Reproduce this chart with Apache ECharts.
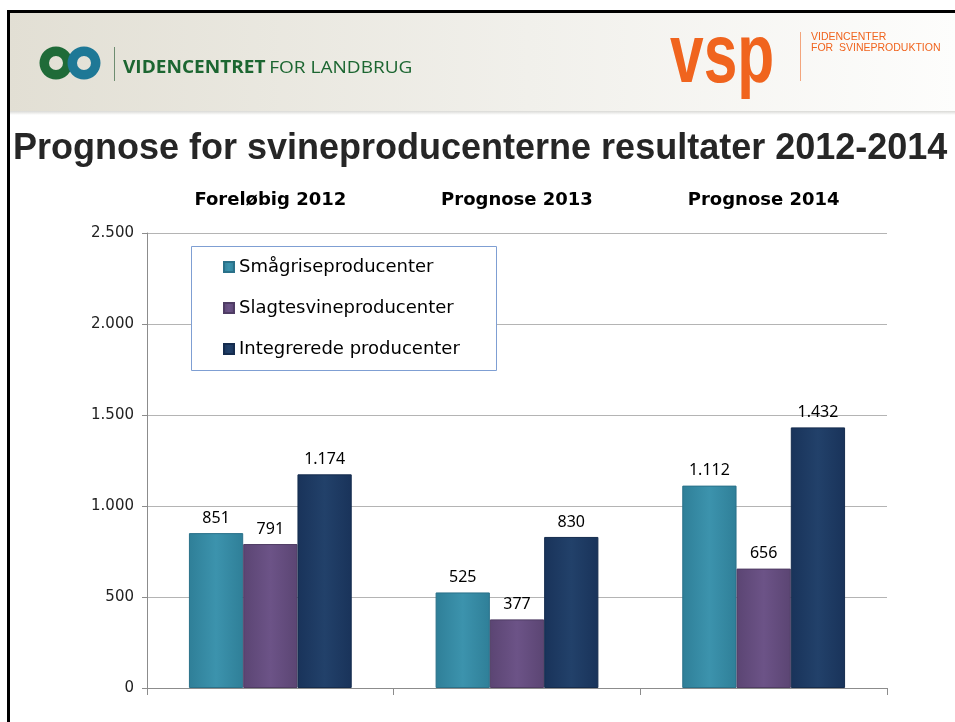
<!DOCTYPE html>
<html>
<head>
<meta charset="utf-8">
<title>Prognose for svineproducenterne resultater 2012-2014</title>
<script src="https://cdn.jsdelivr.net/npm/echarts@6/dist/echarts.min.js"></script>
<style>
  html, body { margin: 0; padding: 0; background: #fff; }
  #chart { width: 955px; height: 722px; }
</style>
</head>
<body>
<div id="chart"></div>
<script>
// data
const categories = ['Foreløbig 2012', 'Prognose 2013', 'Prognose 2014']
const smaagrise = [851, 525, 1112]
const slagtesvin = [791, 377, 656]
const integrerede = [1174, 830, 1432]
const seriesNames = ['Smågriseproducenter', 'Slagtesvineproducenter', 'Integrerede producenter']
const yTicks = [0, 500, 1000, 1500, 2000, 2500]

// danish thousands separator
const fmt = v => String(v).replace(/\B(?=(\d{3})+(?!\d))/g, '.')

// sideways shading so the bars look a bit raised
const barFill = (edge, mid) => ({
   type: 'linear', x: 0, y: 0, x2: 1, y2: 0,
   colorStops: [
      { offset: 0, color: edge },
      { offset: 0.5, color: mid },
      { offset: 1, color: edge }
   ]
})

const makeSeries = (name, data, edge, mid, border) => ({
   name: name,
   type: 'bar',
   data: data,
   barGap: '0%',
   barCategoryGap: '34%',
   itemStyle: { color: barFill(edge, mid), borderColor: border, borderWidth: 1 },
   label: {
      show: true,
      position: 'top',
      distance: 7,
      formatter: p => fmt(p.value),
      fontFamily: 'Noto Sans',
      fontSize: 16,
      color: '#000'
   }
})

const chart = echarts.init(document.getElementById('chart'))

const option = {
   backgroundColor: '#fff',
   animation: false,
   grid: { left: 147, right: 68, top: 233, bottom: 34 },
   legend: {
      orient: 'vertical',
      left: 218,
      top: 252,
      z: 20,
      itemGap: 21,
      itemWidth: 10,
      itemHeight: 10,
      icon: 'rect',
      textStyle: { fontFamily: 'DejaVu Sans', fontSize: 18, color: '#000', lineHeight: 20 },
      data: seriesNames
   },
   xAxis: [
      {
         type: 'category',
         data: categories,
         position: 'bottom',
         axisLine: { lineStyle: { color: '#8c8c8c' } },
         axisTick: { show: true, length: 7, lineStyle: { color: '#8c8c8c' } },
         axisLabel: { show: false }
      },
      {
         type: 'category',
         data: categories,
         position: 'top',
         axisLine: { show: false },
         axisTick: { show: false },
         axisLabel: {
            margin: 24,
            fontFamily: 'DejaVu Sans',
            fontWeight: 'bold',
            fontSize: 18,
            color: '#000'
         }
      }
   ],
   yAxis: {
      type: 'value',
      min: yTicks[0],
      max: yTicks[yTicks.length - 1],
      interval: 500,
      axisLine: { show: true, lineStyle: { color: '#8c8c8c' } },
      axisTick: { show: true, length: 5, lineStyle: { color: '#8c8c8c' } },
      splitLine: { lineStyle: { color: '#b4b4b4' } },
      axisLabel: {
         margin: 13,
         formatter: v => fmt(v),
         fontFamily: 'DejaVu Sans',
         fontSize: 15,
         color: '#222'
      }
   },
   series: [
      makeSeries(seriesNames[0], smaagrise, '#2f7f98', '#3c93ad', '#2a7189'),
      makeSeries(seriesNames[1], slagtesvin, '#5b4573', '#6c5387', '#4f3c64'),
      makeSeries(seriesNames[2], integrerede, '#19335a', '#22416a', '#152c4e')
   ],
   graphic: [
      // slide header band
      {
         type: 'rect', z: 1,
         shape: { x: 8, y: 11, width: 947, height: 100 },
         style: {
            fill: {
               type: 'linear', x: 0, y: 0, x2: 1, y2: 0,
               colorStops: [
                  { offset: 0, color: '#e2dfd4' },
                  { offset: 0.55, color: '#f1f0eb' },
                  { offset: 1, color: '#fdfdfc' }
               ]
            }
         }
      },
      {
         type: 'rect', z: 1,
         shape: { x: 8, y: 111, width: 947, height: 4 },
         style: {
            fill: {
               type: 'linear', x: 0, y: 0, x2: 0, y2: 1,
               colorStops: [{ offset: 0, color: '#d9d9d6' }, { offset: 1, color: '#ffffff' }]
            }
         }
      },
      // black slide frame
      { type: 'line', z: 2, shape: { x1: 8, y1: 11.5, x2: 955, y2: 11.5 }, style: { stroke: '#000', lineWidth: 3 } },
      { type: 'line', z: 2, shape: { x1: 8.5, y1: 10, x2: 8.5, y2: 722 }, style: { stroke: '#000', lineWidth: 3 } },
      // left logo
      { type: 'ring', z: 3, shape: { cx: 56, cy: 63, r: 16.5, r0: 7 }, style: { fill: '#1f6b38' } },
      { type: 'ring', z: 3, shape: { cx: 84, cy: 63, r: 16.5, r0: 7 }, style: { fill: '#1e7896' } },
      { type: 'line', z: 3, shape: { x1: 114.5, y1: 47, x2: 114.5, y2: 81 }, style: { stroke: '#6d8d70', lineWidth: 1 } },
      {
         type: 'text', z: 3, x: 123, y: 68, scaleX: 1.12,
         style: {
            text: '{b|VIDENCENTRET} {r|FOR LANDBRUG}',
            verticalAlign: 'middle',
            rich: {
               b: { fontFamily: 'Open Sans', fontWeight: 'bold', fontSize: 17, fill: '#1c6631' },
               r: { fontFamily: 'Open Sans', fontSize: 17, fill: '#1c6631' }
            }
         }
      },
      // right logo
      {
         type: 'text', z: 3, x: 670, y: 59, scaleX: 0.72,
         style: {
            text: 'vsp', verticalAlign: 'middle',
            fontFamily: 'Liberation Sans', fontWeight: 'bold', fontSize: 84, fill: '#f0641e'
         }
      },
      { type: 'line', z: 3, shape: { x1: 800.5, y1: 32, x2: 800.5, y2: 81 }, style: { stroke: '#f3a57c', lineWidth: 1 } },
      {
         type: 'text', z: 3, x: 811, y: 32,
         style: {
            text: 'VIDENCENTER\nFOR  SVINEPRODUKTION',
            fontFamily: 'Liberation Sans', fontSize: 10.5, lineHeight: 11, fill: '#f0641e'
         }
      },
      // slide title
      {
         type: 'text', z: 3, x: 13, y: 149,
         style: {
            text: 'Prognose for svineproducenterne resultater 2012-2014',
            verticalAlign: 'middle',
            fontFamily: 'Liberation Sans', fontWeight: 'bold', fontSize: 36, fill: '#262626'
         }
      },
      // legend frame
      {
         type: 'rect', z: 10,
         shape: { x: 191.5, y: 246.5, width: 305, height: 124 },
         style: { fill: '#fff', stroke: '#7f9fd3', lineWidth: 1 }
      }
   ]
}

chart.setOption(option)
</script>
</body>
</html>
